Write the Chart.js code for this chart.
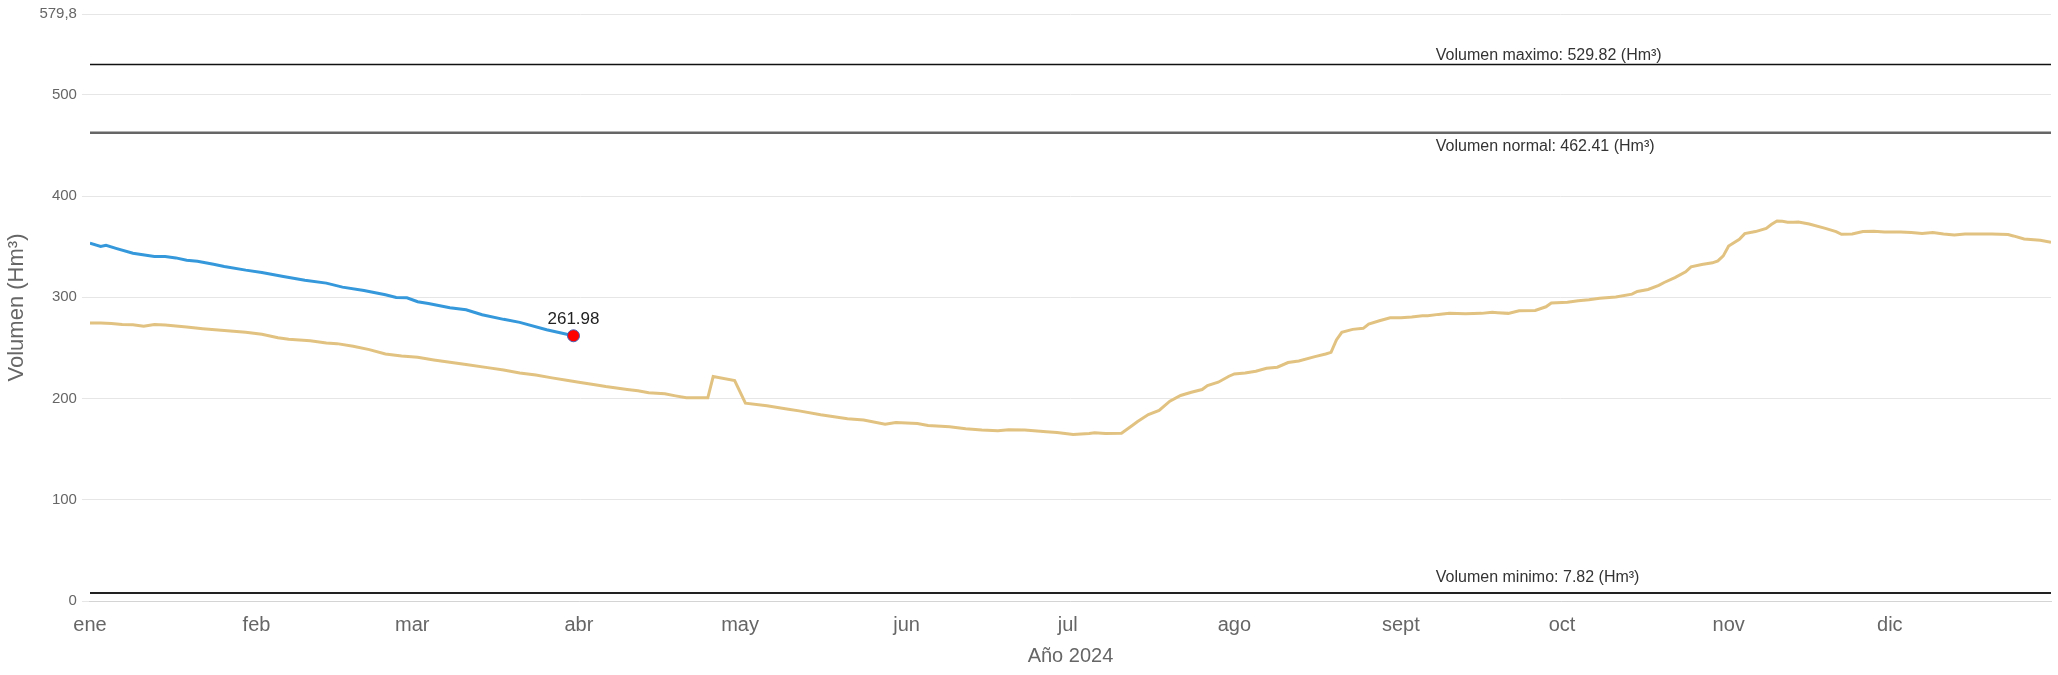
<!DOCTYPE html>
<html>
<head>
<meta charset="utf-8">
<script src="https://cdn.jsdelivr.net/npm/chart.js@4.4.1/dist/chart.umd.min.js"></script>
<style>
  html, body { margin: 0; padding: 0; background: #fff; }
  #wrap { width: 2058px; height: 675px; }
</style>
</head>
<body>
<div id="wrap"><canvas id="js-chart"></canvas></div>
<script>
'use strict';

// eje x: dia del año (0 = 1 de enero)
const monthLabels = ['ene', 'feb', 'mar', 'abr', 'may', 'jun', 'jul', 'ago', 'sept', 'oct', 'nov', 'dic'];
const monthStarts = [0, 31, 60, 91, 121, 152, 182, 213, 244, 274, 305, 335];
const yTicks = [0, 100, 200, 300, 400, 500, 579.8];

// año actual (azul)
const actualDays = [0, 2, 3, 5, 8, 12, 14, 16, 18, 20, 23, 25, 29, 32, 36, 40, 44, 47, 51, 55, 57, 59, 61, 63, 67, 70, 73, 77, 80, 85, 90];
const actualVol = [353.4, 350.1, 351.4, 348.1, 343.5, 340.2, 340.2, 338.9, 336.6, 335.6, 332.7, 330.4, 326.8, 324.5, 320.5, 316.9, 314.0, 310.0, 306.7, 302.5, 299.8, 299.5, 295.6, 293.9, 289.7, 287.7, 282.8, 278.2, 275.2, 268.0, 261.98];

// año 2024 (dorado)
const prevDays = [0, 2, 4, 6, 8, 10, 12, 14, 18, 21, 25, 29, 32, 35, 37, 41, 44, 46, 49, 52, 55, 58, 61, 64, 67, 70, 74, 77, 80, 83, 86, 89,
  91, 94, 96, 100, 102, 104, 107, 109, 111, 115, 116, 120, 122, 126, 130, 132, 136, 141, 144, 148, 150, 154, 156, 160, 163, 166, 169, 171, 174, 178, 180, 183, 186, 187, 189, 192,
  194, 195, 197, 199, 201, 203, 205, 207, 208, 210, 212, 213, 215, 217, 219, 221, 223, 225, 228, 230, 231, 232, 233, 235, 237, 238, 240, 242, 244, 246, 248, 249, 251, 253, 256, 259, 261, 262, 264, 266, 269, 271, 272, 275, 277, 279, 281, 284,
  287, 288, 290, 292, 293, 295, 297, 298, 300, 302, 303, 304, 305, 307, 308, 310, 312, 313, 314, 315, 316, 317, 318, 320, 323, 325, 326, 328, 330, 332, 334, 337, 339, 341, 343, 345, 347, 349, 352, 354, 357, 358, 360, 363, 365];
const prevVol = [274.5, 274.5, 274.2, 273.2, 272.9, 271.3, 273.2, 272.6, 270.6, 269.0, 267.3, 265.4, 263.4, 260.1, 258.5, 257.1, 254.8, 254.2, 251.6, 248.3, 244.0, 242.0, 240.7, 238.1, 235.8, 233.5, 230.5, 228.2, 225.3, 223.3, 220.4, 217.7,
  216.1, 213.5, 211.8, 208.9, 207.6, 205.6, 204.6, 202.6, 200.7, 200.7, 221.7, 217.7, 195.4, 192.8, 189.5, 187.8, 183.9, 180.0, 178.7, 174.7, 176.4, 175.4, 173.4, 172.1, 170.1, 168.8, 168.1, 169.1, 168.8, 167.2, 166.5, 164.5, 165.5, 166.2, 165.5, 165.8,
  173.4, 177.3, 184.2, 188.2, 197.4, 203.0, 206.2, 208.9, 212.8, 216.1, 222.0, 224.3, 225.3, 226.9, 229.9, 230.9, 235.5, 237.1, 241.4, 244.0, 245.6, 257.8, 265.4, 268.3, 269.3, 273.6, 276.8, 279.8, 279.8, 280.5, 281.8, 281.8, 283.1, 284.1, 283.7, 284.1, 285.1, 284.7, 284.1, 286.7, 287.0, 290.6, 294.3, 295.2, 296.6, 297.5, 299.0, 300.3,
  303.1, 305.7, 307.7, 311.7, 314.6, 319.5, 325.1, 330.0, 332.3, 334.0, 336.0, 340.9, 350.7, 357.3, 362.9, 364.9, 368.1, 372.1, 375.4, 375.0, 374.1, 374.1, 374.4, 372.4, 368.1, 364.9, 362.2, 362.6, 364.9, 365.2, 364.5, 364.5, 363.9, 362.9, 363.9, 362.6, 361.6, 362.6, 362.6, 362.6, 361.9, 360.6, 357.6, 356.3, 354.4];

// lineas de referencia
const refValues = [529.82, 462.41, 7.82];
const refLabels = ['Volumen maximo: 529.82 (Hm³)', 'Volumen normal: 462.41 (Hm³)', 'Volumen minimo: 7.82 (Hm³)'];
const refStyles = [
  { color: '#111', width: 1.5, dy: -5 },
  { color: '#666', width: 2.5, dy: 18 },
  { color: '#222', width: 2, dy: -11 }
];

const FONT = '"Liberation Sans", Arial, sans-serif';
const X_MAX = 365;
const LABEL_DAY = 250.5;

Chart.defaults.font.family = FONT;

const toPoints = function(days, vals) {
  return days.map((d, i) => ({ x: d, y: vals[i] }));
};

const labelsPlugin = {
  id: 'labelsPlugin',
  afterDatasetsDraw(chart) {
    const ctx = chart.ctx;
    const x = chart.scales.x;
    const y = chart.scales.y;
    ctx.save();
    ctx.fillStyle = '#333';
    ctx.font = '16px ' + FONT;
    ctx.textAlign = 'left';
    ctx.textBaseline = 'alphabetic';
    refLabels.forEach((txt, i) => {
      ctx.fillText(txt, x.getPixelForValue(LABEL_DAY), y.getPixelForValue(refValues[i]) + refStyles[i].dy);
    });
    // ultimo dato
    const meta = chart.getDatasetMeta(0);
    const pt = meta.data[meta.data.length - 1];
    ctx.font = '17px ' + FONT;
    ctx.fillStyle = '#222';
    ctx.textAlign = 'center';
    ctx.textBaseline = 'middle';
    ctx.fillText(actualVol[actualVol.length - 1].toFixed(2), pt.x, pt.y - 16);
    ctx.restore();
  }
};

const datasets = [
  {
    label: '2025',
    data: toPoints(actualDays, actualVol),
    borderColor: '#3498db',
    borderWidth: 3,
    pointRadius: (c) => (c.dataIndex === actualVol.length - 1 ? 6 : 0),
    pointBackgroundColor: '#ff0000',
    pointBorderColor: '#4a5fb0',
    pointBorderWidth: 1,
    tension: 0
  },
  {
    label: '2024',
    data: toPoints(prevDays, prevVol),
    borderColor: 'rgb(226,194,128)',
    borderWidth: 3,
    pointRadius: 0,
    tension: 0
  }
];

refValues.forEach((v, i) => {
  datasets.push({
    label: refLabels[i],
    data: [{ x: 0, y: v }, { x: X_MAX, y: v }],
    borderColor: refStyles[i].color,
    borderWidth: refStyles[i].width,
    pointRadius: 0
  });
});

let myChart = new Chart(document.getElementById('js-chart').getContext('2d'), {
  type: 'line',
  data: { datasets: datasets },
  options: {
    responsive: true,
    maintainAspectRatio: false,
    animation: false,
    locale: 'es-ES',
    layout: { padding: { top: 12, right: 4, bottom: 0, left: 0 } },
    plugins: {
      legend: { display: false },
      tooltip: { enabled: false }
    },
    scales: {
      x: {
        type: 'linear',
        min: 0,
        max: X_MAX,
        afterBuildTicks: (scale) => {
          scale.ticks = monthStarts.map((v) => ({ value: v }));
        },
        grid: { display: false, drawTicks: true, tickLength: 12 },
        border: { display: true, color: '#d4d4d4' },
        ticks: {
          padding: 0,
          color: '#666',
          font: { size: 20 },
          maxRotation: 0,
          autoSkip: false,
          callback: (v) => monthLabels[monthStarts.indexOf(v)]
        },
        title: {
          display: true,
          text: 'Año 2024',
          color: '#666',
          font: { size: 20 },
          padding: { top: 7, bottom: 7 }
        }
      },
      y: {
        min: 0,
        max: 579.8,
        afterBuildTicks: (scale) => {
          scale.ticks = yTicks.map((v) => ({ value: v }));
        },
        grid: { color: '#e6e6e6', tickLength: 8 },
        border: { display: false },
        ticks: {
          padding: 5,
          color: '#666',
          font: { size: 15 },
          callback: (v) => v.toLocaleString('es-ES')
        },
        title: {
          display: true,
          text: 'Volumen (Hm³)',
          color: '#666',
          font: { size: 22 }
        }
      }
    }
  },
  plugins: [labelsPlugin]
});
</script>
</body>
</html>
